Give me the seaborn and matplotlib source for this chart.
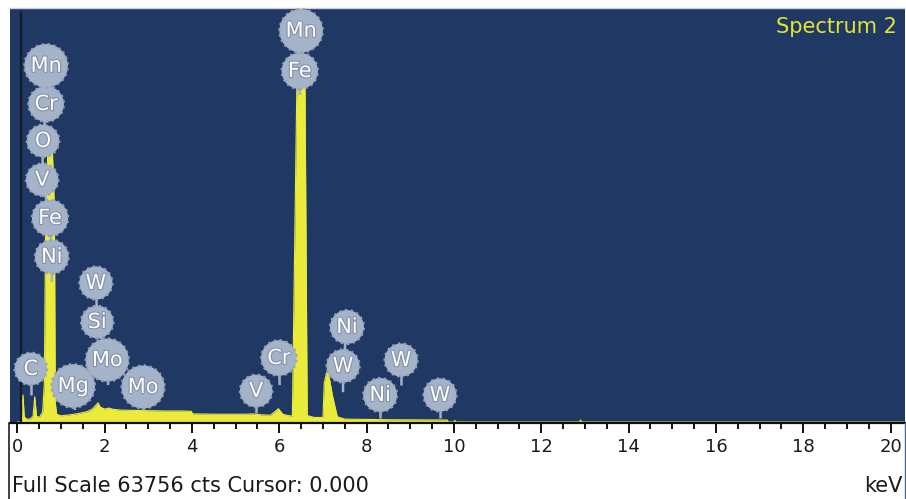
import matplotlib
matplotlib.use("Agg")
import matplotlib.pyplot as plt
import matplotlib.patheffects as pe
from matplotlib.lines import Line2D
from matplotlib.ticker import MultipleLocator
import numpy as np
import pandas as pd
import seaborn as sns

# ---- spectrum (energy in keV, counts per channel) ----
energy_kev = [0.00, 0.09, 0.11, 0.13, 0.16, 0.22, 0.30, 0.36, 0.40, 0.44,
              0.50, 0.58, 0.62, 0.65, 0.70, 0.80, 0.85, 0.87, 0.90, 1.00,
              1.20, 1.40, 1.60, 1.72, 1.80, 1.85, 1.90, 2.00, 2.10, 2.20,
              2.35, 2.60, 3.00, 3.40, 3.80, 3.98, 4.02, 4.60, 5.20, 5.40,
              5.60, 5.80, 5.90, 5.98, 6.08, 6.20, 6.30, 6.40, 6.45, 6.49,
              6.53, 6.59, 6.64, 6.80, 7.00, 7.03, 7.08, 7.13, 7.22, 7.33,
              7.50, 8.50, 9.50, 9.85, 9.87, 10.00, 10.02, 10.05, 12.87, 12.90,
              12.93, 20.30]
counts = [0, 0, 2500, 4200, 800, 400, 500, 900, 3900, 900,
          700, 1500, 6000, 32000, 42000, 42500, 33000, 3000, 1200, 950,
          1100, 1300, 1600, 2000, 2600, 2950, 2300, 2000, 2150, 1950,
          1850, 1800, 1750, 1700, 1700, 1650, 1250, 1200, 1200, 1250,
          1100, 1050, 1600, 2050, 1200, 1000, 900, 51000, 61000, 63700,
          61000, 51000, 1000, 700, 700, 6000, 7600, 7400, 4000, 800,
          450, 350, 320, 300, 0, 0, 250, 0, 0, 300,
          0, 0]
full_scale_cts = 63756
cursor_kev = 0.000

tick_values = [0, 2, 4, 6, 8, 10, 12, 14, 16, 18, 20]

# ---- peak identification markers ----
# each stack: stem anchor (keV, counts) and its badges from bottom to top
label_stacks = [
    {"anchor": (0.79, 21600),
     "badges": [("Ni", 0.79, 25500), ("Fe", 0.75, 31500), ("V", 0.57, 37400),
                ("O", 0.59, 43400), ("Cr", 0.66, 49100), ("Mn", 0.66, 55000)]},
    {"anchor": (0.31, 4200), "badges": [("C", 0.31, 8200)]},
    {"anchor": (1.32, 1850), "badges": [("Mg", 1.28, 5560)]},
    {"anchor": (2.08, 5700),
     "badges": [("Mo", 2.06, 9570), ("Si", 1.83, 15440), ("W", 1.80, 21460)]},
    {"anchor": (2.88, 1850), "badges": [("Mo", 2.88, 5400)]},
    {"anchor": (5.47, 1400), "badges": [("V", 5.47, 4800)]},
    {"anchor": (6.01, 5700), "badges": [("Cr", 5.99, 9880)]},
    {"anchor": (6.47, 50500),
     "badges": [("Fe", 6.47, 54200), ("Mn", 6.50, 60400)]},
    {"anchor": (7.46, 4600),
     "badges": [("W", 7.46, 8650), ("Ni", 7.55, 14670)]},
    {"anchor": (8.31, 620), "badges": [("Ni", 8.31, 4170)]},
    {"anchor": (8.79, 5700), "badges": [("W", 8.79, 9570)]},
    {"anchor": (9.68, 620), "badges": [("W", 9.68, 4170)]},
]

NAVY = "#203864"
YELLOW = "#ebeb3b"
BADGE = "#a5b3c8"
BADGE_EDGE = "#95a3ba"

sns.set_theme(style="white")
plt.rcParams["font.family"] = ["DejaVu Sans"]

fig = plt.figure(figsize=(9.06, 4.99), dpi=100)
fig.patch.set_facecolor("white")
ax = fig.add_axes([10 / 906, 1 - 423 / 499, 895 / 906, 415 / 499])
ax.set_facecolor(NAVY)

spec = pd.DataFrame({"keV": energy_kev, "cts": counts})
ax.fill_between(spec["keV"], spec["cts"], color=YELLOW, lw=0, zorder=2)
sns.lineplot(data=spec, x="keV", y="cts", ax=ax, color=YELLOW, lw=0.8,
             zorder=2, sort=False)

ax.set_xlim(-0.167, 20.33)
ax.set_ylim(-154, 63920)

# cursor line
ax.axvline(cursor_kev + 0.085, ymin=0, ymax=0.99, color="#141c28", lw=1.6, zorder=3)

# peak markers
for stack in label_stacks:
    xs = [stack["anchor"][0]] + [b[1] for b in stack["badges"]]
    ys = [stack["anchor"][1]] + [b[2] for b in stack["badges"]]
    ax.plot(xs, ys, color=BADGE, lw=1.8, zorder=4, solid_capstyle="butt")
    for name, bx, by in stack["badges"]:
        ax.text(bx, by, name, ha="center", va="center", fontsize=15,
                color="white", zorder=5,
                bbox=dict(boxstyle="circle,pad=0.3", fc=BADGE, ec=BADGE_EDGE,
                          lw=1.6, ls=":"),
                path_effects=[pe.withStroke(linewidth=1.6, foreground="#8391aa")])

ax.text(0.991, 0.954, "Spectrum 2", transform=ax.transAxes, ha="right",
        va="center", fontsize=15, color="#e4e432", zorder=6)

# axes styling
for side in ("left", "right"):
    ax.spines[side].set_visible(False)
ax.spines["top"].set_color("#cdd2da")
ax.spines["top"].set_linewidth(1.0)
ax.spines["bottom"].set_color("#101010")
ax.spines["bottom"].set_linewidth(1.6)
ax.set_yticks([])
ax.set_xticks(tick_values)
ax.set_xticklabels([str(t) for t in tick_values])
ax.xaxis.set_minor_locator(MultipleLocator(0.5))
ax.tick_params(axis="x", which="major", direction="out", length=7, width=1.4,
               color="#101010", labelsize=13, labelcolor="#1a1a1a", pad=4,
               bottom=True)
ax.tick_params(axis="x", which="minor", direction="out", length=4.5, width=1.4,
               color="#101010", bottom=True)
ax.set_xlabel("")
ax.set_ylabel("")

fig.text(12 / 906, 1 - 486 / 499,
         f"Full Scale {full_scale_cts} cts Cursor: {cursor_kev:.3f}",
         ha="left", va="center", fontsize=15, color="#1a1a1a")
fig.text(903 / 906, 1 - 486 / 499, "keV", ha="right", va="center",
         fontsize=15, color="#1a1a1a")

# panel frame edges below the plot
fig.add_artist(Line2D([9 / 906, 9 / 906], [0, 1 - 423 / 499],
                      transform=fig.transFigure, color="#202020", lw=1.2))
fig.add_artist(Line2D([905 / 906, 905 / 906], [0, 1 - 423 / 499],
                      transform=fig.transFigure, color="#4a6a9a", lw=1.0))

fig.savefig("out.png", dpi=100, facecolor="white")
